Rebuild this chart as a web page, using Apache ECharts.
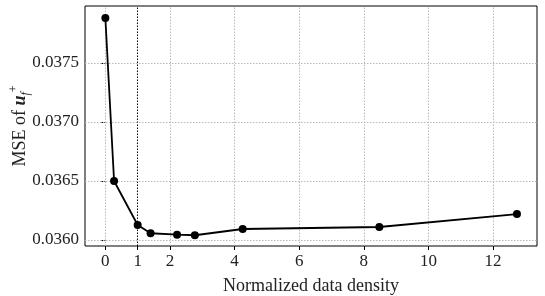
<!DOCTYPE html>
<html><head><meta charset="utf-8">
<script src="https://cdn.jsdelivr.net/npm/echarts@6/dist/echarts.min.js"></script>
<style>html,body{margin:0;padding:0;background:#fff}#c{width:545px;height:296px}</style>
</head><body><div id="c"></div>
<script>
const densities = [0, 0.27, 1, 1.4, 2.22, 2.77, 4.25, 8.48, 12.74];
const mse = [0.037881, 0.036500, 0.036127, 0.036057, 0.036045, 0.036040, 0.036093, 0.036110, 0.036220];
const xTicks = [0, 1, 2, 4, 6, 8, 10, 12];
const xGrid = [0, 2, 4, 6, 8, 10, 12];
const yTicks = [0.0360, 0.0365, 0.0370, 0.0375];
const refLine = 1;
const font = 'Liberation Serif';
const chart = echarts.init(document.getElementById('c'), null, {renderer: 'canvas'});
const gridStyle = {color: '#b8b8b8', type: [1.5, 1.5], width: 1};
chart.setOption({
  animation: false,
  grid: {left: 85, right: 8, top: 6, bottom: 50, show: true, borderColor: '#000', borderWidth: 1,
    containLabel: false, outerBoundsMode: 'none'},
  xAxis: {
    type: 'value', min: -0.63, max: 13.36,
    name: 'Normalized data density', nameLocation: 'middle', nameGap: 31, nameMoveOverlap: false,
    nameTextStyle: {fontFamily: font, fontSize: 18, color: '#222'},
    axisLine: {show: false},
    axisTick: {show: true, customValues: xTicks, length: 4, lineStyle: {color: '#000'}},
    axisLabel: {customValues: xTicks, fontFamily: font, fontSize: 17, color: '#222', margin: 7},
    splitLine: {show: false}
  },
  yAxis: {
    type: 'value', min: 0.035949, max: 0.037983,
    name: '{a|MSE of }{u|u}{s|f}{p|+}', nameLocation: 'middle', nameGap: 65, nameMoveOverlap: false,
    nameTextStyle: {
      fontFamily: font, fontSize: 18, color: '#222', verticalAlign: 'middle', align: 'center',
      rich: {
        a: {fontFamily: font, fontSize: 18, color: '#222', lineHeight: 24, verticalAlign: 'middle'},
        u: {fontFamily: font, fontSize: 18, fontWeight: 'bold', fontStyle: 'italic', color: '#222', lineHeight: 24, verticalAlign: 'middle'},
        s: {fontFamily: font, fontSize: 12, fontStyle: 'italic', color: '#222', lineHeight: 24, verticalAlign: 'bottom'},
        p: {fontFamily: font, fontSize: 12, color: '#222', lineHeight: 24, verticalAlign: 'top'}
      }
    },
    axisLine: {show: false},
    axisTick: {show: true, customValues: yTicks, length: 4, lineStyle: {color: '#000'}},
    axisLabel: {customValues: yTicks, fontFamily: font, fontSize: 17, color: '#222', margin: 6,
      formatter: v => v.toFixed(4)},
    splitLine: {show: false}
  },
  series: [{
    type: 'line',
    data: densities.map((d, i) => [d, mse[i]]),
    symbol: 'circle', symbolSize: 8,
    itemStyle: {color: '#000'},
    lineStyle: {color: '#000', width: 1.8},
    z: 5,
    markLine: {
      silent: true, symbol: 'none', label: {show: false}, z: 1,
      data: [
        ...xGrid.map(v => ({xAxis: v, lineStyle: gridStyle})),
        {xAxis: refLine, lineStyle: {color: '#000', type: [1.5, 1.5], width: 1}}
      ]
    }
  }, {
    type: 'line',
    data: [],
    z: 1,
    markLine: {
      silent: true, symbol: 'none', label: {show: false},
      data: yTicks.map(v => [{coord: [-0.63, v]}, {coord: [13.36, v]}]),
      lineStyle: gridStyle
    }
  }]
});
</script></body></html>
